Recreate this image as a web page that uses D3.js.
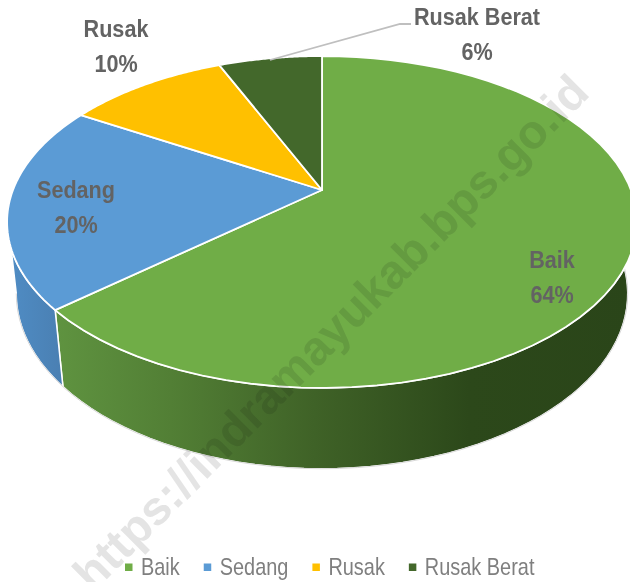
<!DOCTYPE html>
<html><head><meta charset="utf-8">
<script src="https://cdn.jsdelivr.net/npm/d3@7/dist/d3.min.js"></script>
<style>html,body{margin:0;padding:0;background:#fff}svg{display:block}</style>
</head><body><svg id="c" width="630" height="582"></svg>
<script>
const categories = ["Baik","Sedang","Rusak","Rusak Berat"];
const values = [63.6,20,10,6.4];
const colors = ["#70ad47","#5b9bd5","#ffc000","#43682b"];
const watermark = "https://indramayukab.bps.go.id";

const svg = d3.select("#c");
const sans = "'Liberation Sans',Arial,sans-serif";
const persp = 0.1928;
// perspective disc: circle coordinates to page coordinates
function disc(ax, ay, a, b){
  return t => { const u=Math.sin(t), v=Math.cos(t), w=1+persp*v;
    return [ax+a*u/w, ay-b*v/w]; };
}
const topAt = disc(322,190,309,159.8);
const botAt = disc(322,260,300,168.5);
const slices = d3.pie().sort(null).value(d=>d)(values);
const line = d3.line();
const arcPts = (f,s,e) => d3.range(0,61).map(i=>f(s+(e-s)*i/60));
const rad = d => d*Math.PI/180;

const defs = svg.append("defs");
const g1 = defs.append("linearGradient").attr("id","wallGreen").attr("gradientUnits","userSpaceOnUse")
  .attr("x1",56).attr("x2",630).attr("y1",0).attr("y2",0);
[[0,"#5f9340"],[0.2,"#527f35"],[0.45,"#3f6227"],[0.72,"#2c481a"],[1,"#2a4519"]]
  .forEach(s=>g1.append("stop").attr("offset",s[0]).attr("stop-color",s[1]));
const g2 = defs.append("linearGradient").attr("id","wallBlue").attr("gradientUnits","userSpaceOnUse")
  .attr("x1",10).attr("x2",63).attr("y1",0).attr("y2",0);
[[0,"#4f8cc4"],[1,"#4a7fb2"]].forEach(s=>g2.append("stop").attr("offset",s[0]).attr("stop-color",s[1]));

// side walls
const end0 = slices[0].endAngle;
const wall = [
  {pts:arcPts(topAt,rad(75),end0).concat(arcPts(botAt,end0,rad(75))), fill:"url(#wallGreen)"},
  {pts:arcPts(topAt,end0,rad(250)).concat(arcPts(botAt,rad(259),end0)), fill:"url(#wallBlue)"}
];
svg.append("g").selectAll("path").data(wall).join("path")
  .attr("d",d=>line(d.pts)+"Z")
  .attr("fill",d=>d.fill).attr("stroke","#fff").attr("stroke-width",1.5).attr("stroke-linejoin","round");
// faint outer edge
svg.append("path").attr("d",line(arcPts(botAt,rad(90),rad(259))))
  .attr("fill","none").attr("stroke","#d9d9d9").attr("stroke-width",1);

// top surface
svg.append("g").selectAll("path").data(slices).join("path")
  .attr("d",d=>line([[322,190]].concat(arcPts(topAt,d.startAngle,d.endAngle)))+"Z")
  .attr("fill",(d,i)=>colors[i]).attr("stroke","#fff").attr("stroke-width",1.8).attr("stroke-linejoin","round");

// leader
svg.append("path").attr("d",line([[270,60],[400,24],[411,24]]))
  .attr("fill","none").attr("stroke","#bfbfbf").attr("stroke-width",1.8);

// data labels
const labelAt = [[552,268,303],[76,198,233],[116,37,72],[477,25,60]];
const lab = svg.append("g").attr("font-family",sans).attr("font-weight",700)
  .attr("font-size",24).attr("fill","#636363").attr("text-anchor","middle");
const put = (g,x,y,s,k) => g.append("text").attr("transform",`translate(${x},${y}) scale(${k},1)`).text(s);
categories.forEach((c,i)=>{
  put(lab,labelAt[i][0],labelAt[i][1],c,0.9);
  put(lab,labelAt[i][0],labelAt[i][2],d3.format(".0f")(values[i])+"%",0.9);
});

// legend
const leg = svg.append("g").attr("font-family",sans).attr("font-size",24).attr("fill","#7f7f7f");
let lx = 125;
categories.forEach((c,i)=>{
  leg.append("rect").attr("x",lx).attr("y",563.5).attr("width",7.5).attr("height",7.5).attr("fill",colors[i]);
  const t = put(leg,lx+16,575,c,0.83);
  lx += 16 + t.node().getComputedTextLength()*0.83 + 24;
});

// watermark
svg.append("text").attr("transform","translate(93,593) rotate(-45)")
  .attr("font-family",sans).attr("font-weight",700).attr("font-size",47.5)
  .attr("fill","#e4e4e4").style("mix-blend-mode","multiply").text(watermark);
</script></body></html>
